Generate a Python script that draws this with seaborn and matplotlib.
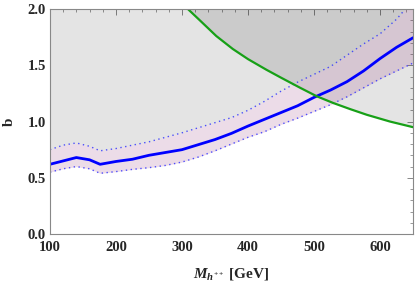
import matplotlib
matplotlib.use('Agg')
import matplotlib.pyplot as plt
import seaborn as sns
import numpy as np
import pandas as pd
from matplotlib.ticker import MultipleLocator, FormatStrFormatter

# band data (central value and 1-sigma edges)
mass = [100, 120, 140, 160, 176, 200, 225, 250, 275, 300, 325, 350,
        375, 400, 425, 450, 475, 500, 525, 550, 575, 600, 625, 650]
b_central = [0.62, 0.65, 0.68, 0.66, 0.62, 0.645, 0.665, 0.70, 0.725, 0.75, 0.795, 0.84,
             0.895, 0.96, 1.02, 1.08, 1.14, 1.215, 1.28, 1.355, 1.45, 1.56, 1.66, 1.745]
b_upper = [0.75, 0.79, 0.81, 0.78, 0.74, 0.76, 0.79, 0.82, 0.86, 0.90, 0.945, 0.99,
           1.035, 1.10, 1.18, 1.27, 1.35, 1.42, 1.49, 1.59, 1.69, 1.78, 1.91, 2.08]
b_lower = [0.55, 0.58, 0.60, 0.58, 0.54, 0.555, 0.575, 0.59, 0.61, 0.64, 0.685, 0.74,
           0.80, 0.86, 0.91, 0.975, 1.03, 1.09, 1.15, 1.22, 1.30, 1.38, 1.45, 1.52]

# green bound
mass_green = [305, 309, 327, 352, 377, 400, 428, 450, 479, 504, 529, 555, 580, 615, 650]
b_green = [2.03, 2.0, 1.90, 1.76, 1.645, 1.555, 1.46, 1.39, 1.30, 1.225, 1.165, 1.11, 1.06, 1.00, 0.95]

df = pd.DataFrame({'M': mass, 'b': b_central, 'up': b_upper, 'lo': b_lower})
dg = pd.DataFrame({'M': mass_green, 'b': b_green})

sns.set_style('white')
plt.rcParams['font.family'] = ['Liberation Serif', 'DejaVu Serif']
plt.rcParams['font.weight'] = 'bold'
plt.rcParams['mathtext.fontset'] = 'custom'
plt.rcParams['mathtext.rm'] = 'Liberation Serif:bold'
plt.rcParams['mathtext.it'] = 'Liberation Serif:italic:bold'
plt.rcParams['mathtext.bf'] = 'Liberation Serif:bold'

fig = plt.figure(figsize=(4.16, 2.83), dpi=100)
ax = fig.add_axes([0.120, 0.173, 0.873, 0.795])

top = 2.3
# excluded regions (grey, overlapping -> darker)
ax.fill_between(df['M'], df['up'], top, color='black', alpha=0.105, lw=0)
ax.fill_between(dg['M'], dg['b'], top, color='black', alpha=0.105, lw=0)
ax.fill_between([dg['M'].iloc[-1], 660], [dg['b'].iloc[-1]] * 2, top, color='black', alpha=0.105, lw=0)
# uncertainty band
ax.fill_between(df['M'], df['lo'], df['up'], color='#a0508c', alpha=0.2, lw=0)

sns.lineplot(data=df, x='M', y='up', ax=ax, color='#3333ff', lw=1.0, alpha=0.85,
             linestyle=(0, (1, 2.5)))
sns.lineplot(data=df, x='M', y='lo', ax=ax, color='#3333ff', lw=1.0, alpha=0.85,
             linestyle=(0, (1, 2.5)))
sns.lineplot(data=df, x='M', y='b', ax=ax, color='#0000ff', lw=2.0)
sns.lineplot(data=dg, x='M', y='b', ax=ax, color='#17a017', lw=1.6)

ax.set_xlim(100, 650)
ax.set_ylim(0, 2.0)
ax.xaxis.set_major_locator(MultipleLocator(100))
ax.xaxis.set_minor_locator(MultipleLocator(20))
ax.yaxis.set_major_locator(MultipleLocator(0.5))
ax.yaxis.set_minor_locator(MultipleLocator(0.1))
ax.yaxis.set_major_formatter(FormatStrFormatter('%.1f'))

ax.tick_params(which='both', direction='in', top=True, right=True, color='#888888',
               labelsize=10.5)
ax.tick_params(axis='x', pad=5)
ax.tick_params(axis='y', pad=3)
ax.tick_params(which='major', length=4, width=0.7)
ax.tick_params(which='minor', length=2, width=0.6)
for lab in ax.get_xticklabels() + ax.get_yticklabels():
    lab.set_fontweight('bold')
for s in ax.spines.values():
    s.set_color('#888888')
    s.set_linewidth(0.8)

ax.set_xlabel(r'$M_{h^{++}}$ [GeV]', fontsize=11, fontweight='bold', labelpad=9)
ax.set_ylabel('b', fontsize=11, fontweight='bold', labelpad=8)

fig.savefig('out.png', dpi=100)
